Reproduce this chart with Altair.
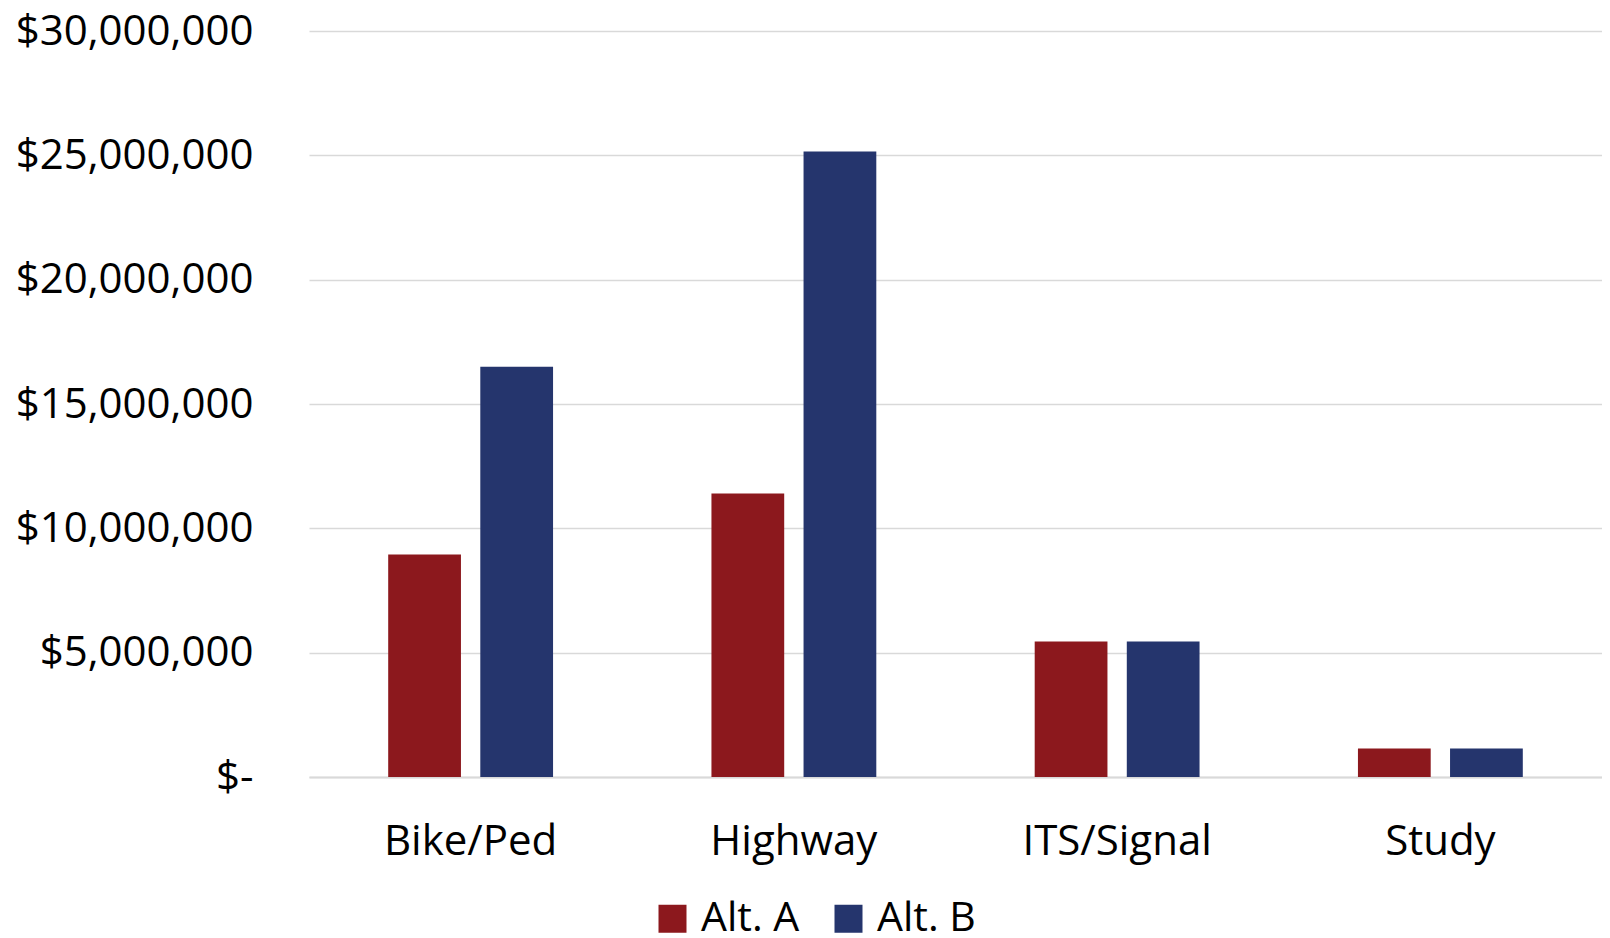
import altair as alt
import pandas as pd

categories = ["Bike/Ped", "Highway", "ITS/Signal", "Study"]
alt_a = [8950000, 11400000, 5450000, 1150000]
alt_b = [16500000, 25150000, 5450000, 1150000]
series = ["Alt. A", "Alt. B"]
colors = ["#8C181D", "#25356D"]

rows = []
for i, c in enumerate(categories):
    rows.append({"category": c, "series": series[0], "value": alt_a[i]})
    rows.append({"category": c, "series": series[1], "value": alt_b[i]})
df = pd.DataFrame(rows)

FONT = "Open Sans"

chart = alt.Chart(df).mark_bar().encode(
    x=alt.X("category:N", sort=categories, title=None,
            scale=alt.Scale(paddingInner=0.49, paddingOuter=0.245),
            axis=alt.Axis(labelAngle=0, labelFontSize=42, labelFont=FONT, labelColor="#000000",
                          labelPadding=44, labelLimit=0, ticks=False, domain=True, domainColor="#d9d9d9",
                          domainWidth=2, grid=False)),
    xOffset=alt.XOffset("series:N", sort=series, scale=alt.Scale(paddingInner=0.21)),
    y=alt.Y("value:Q", title=None, scale=alt.Scale(domain=[0, 30000000], nice=False),
            axis=alt.Axis(values=[0, 5000000, 10000000, 15000000, 20000000, 25000000, 30000000],
                          labelExpr="datum.value == 0 ? '$-' : '$' + format(datum.value, ',')",
                          labelFontSize=42, labelFont=FONT, labelColor="#000000", labelLimit=0,
                          labelPadding=56, ticks=False, domain=False,
                          grid=True, gridColor="#d9d9d9", gridWidth=1.5)),
    color=alt.Color("series:N", sort=series,
                    scale=alt.Scale(domain=series, range=colors),
                    legend=alt.Legend(title=None, orient="none", direction="horizontal",
                                      legendX=343, legendY=867,
                                      symbolType="square", symbolSize=784,
                                      symbolStrokeWidth=0, labelLimit=0,
                                      labelFontSize=41, labelFont=FONT, labelColor="#000000",
                                      labelOffset=8, columnPadding=28)),
).properties(
    width=1293,
    height=746,
    autosize=alt.AutoSizeParams(type="none"),
    padding={"left": 301, "top": 23, "right": 0, "bottom": 160},
).configure_view(stroke=None)

chart.save("out.html", embed_options={"renderer": "svg", "actions": False})
